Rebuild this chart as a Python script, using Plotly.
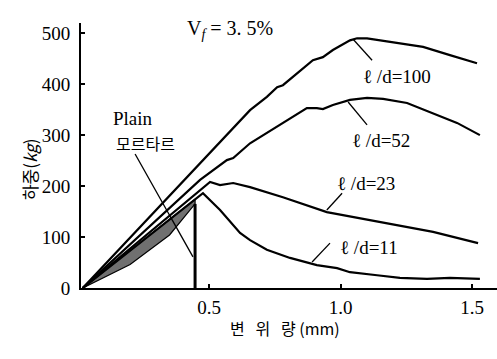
import plotly.graph_objects as go

# ---- data (displacement mm, load kg) ----
d100_x = [0.02, 0.656, 0.72, 0.759, 0.781, 0.819, 0.895, 0.933, 0.971, 1.036, 1.063, 1.101, 1.2, 1.314, 1.416, 1.519]
d100_y = [0, 349, 375, 394, 398, 414, 447, 453, 467, 486, 490, 490, 482, 473, 457, 441]

d52_x = [0.02, 0.466, 0.568, 0.592, 0.656, 0.72, 0.781, 0.872, 0.91, 0.933, 0.971, 1.036, 1.101, 1.162, 1.253, 1.352, 1.443, 1.53]
d52_y = [0, 212, 251, 255, 284, 304, 324, 353, 353, 351, 359, 369, 373, 371, 363, 343, 324, 300]

d23_x = [0.02, 0.49, 0.504, 0.542, 0.592, 0.656, 0.781, 0.948, 1.162, 1.352, 1.523]
d23_y = [0, 203, 208, 202, 206, 198, 178, 149, 129, 110, 88]

d11_x = [0.02, 0.477, 0.542, 0.618, 0.656, 0.72, 0.808, 0.91, 0.987, 1.036, 1.139, 1.226, 1.329, 1.416, 1.53]
d11_y = [0, 186, 153, 108, 94, 75, 59, 45, 39, 31, 25, 20, 18, 20, 18]

plain_hi_x = [0.02, 0.447]
plain_hi_y = [0, 174]
plain_lo_x = [0.02, 0.2, 0.35, 0.447]
plain_lo_y = [0, 46, 104, 165]
plain_drop_x = [0.447, 0.447]
plain_drop_y = [165, 0]

x_tickvals = [0.5, 1.0, 1.5]
x_ticktext = ["0.5", "1.0", "1.5"]
y_tickvals = [0, 100, 200, 300, 400, 500]

serif = "Liberation Serif"
kr = "Noto Sans CJK KR"

fig = go.Figure()

# shaded plain mortar band
fig.add_trace(go.Scatter(
    x=plain_hi_x + plain_lo_x[::-1], y=plain_hi_y + plain_lo_y[::-1],
    fill="toself", fillcolor="#707070", mode="lines",
    line=dict(color="black", width=1.2), hoverinfo="skip", showlegend=False))
fig.add_trace(go.Scatter(x=plain_drop_x, y=plain_drop_y, mode="lines",
                         line=dict(color="black", width=3), showlegend=False))

for xs, ys in [(d100_x, d100_y), (d52_x, d52_y), (d23_x, d23_y), (d11_x, d11_y)]:
    fig.add_trace(go.Scatter(x=xs, y=ys, mode="lines",
                             line=dict(color="black", width=2.2),
                             showlegend=False))

annotations = []
# curve labels
labels = [("ℓ /d=100", 1.215, 416), ("ℓ /d=52", 1.154, 290),
          ("ℓ /d=23", 1.097, 206), ("ℓ /d=11", 1.108, 80)]
for t, x, y in labels:
    annotations.append(dict(x=x, y=y, text=t, showarrow=False,
                            font=dict(family=serif, size=19, color="black")))
annotations.append(dict(x=0.211, y=333, text="Plain", showarrow=False,
                        font=dict(family=serif, size=19, color="black")))
annotations.append(dict(x=0.26, y=284, text="모르타르", showarrow=False,
                        font=dict(family=kr, size=16, color="black")))

# leader lines
leaders = [((1.048, 488), (1.120, 447)), ((1.029, 365), (1.101, 320)),
           ((1.006, 186), (0.948, 153)), ((0.960, 88), (0.892, 51)),
           ((0.219, 263), (0.439, 61))]
shapes = []
for (x0, y0), (x1, y1) in leaders:
    shapes.append(dict(type="line", xref="x", yref="y", x0=x0, y0=y0, x1=x1, y1=y1,
                       line=dict(color="black", width=1.3)))

# titles
annotations.append(dict(xref="paper", yref="paper", x=0.358, y=1.03,
                        text="V<sub><i>f</i></sub> = 3. 5%", showarrow=False,
                        font=dict(family=serif, size=20, color="black")))
annotations.append(dict(xref="paper", yref="paper", x=-0.159, y=0.45,
                        text="하중(<i>kg</i>)", textangle=-90, showarrow=False,
                        font=dict(family=kr, size=17, color="black")))
annotations.append(dict(xref="paper", yref="paper", x=0.49, y=-0.204,
                        text="변   위   량 (mm)", showarrow=False,
                        font=dict(family=kr, size=16, color="black")))

fig.update_layout(
    width=497, height=359,
    margin=dict(l=81, r=0, t=23, b=71),
    paper_bgcolor="white", plot_bgcolor="white",
    showlegend=False,
    annotations=annotations,
    shapes=shapes,
    xaxis=dict(range=[0.0133, 1.595], tickvals=x_tickvals, ticktext=x_ticktext,
               ticks="inside", ticklen=4, tickwidth=1.5, tickcolor="black",
               showline=True, linecolor="black", linewidth=2,
               showgrid=False, zeroline=False, ticklabelstandoff=1,
               tickfont=dict(family=serif, size=19, color="black")),
    yaxis=dict(range=[0, 520], tickvals=y_tickvals,
               ticks="inside", ticklen=4, tickwidth=1.5, tickcolor="black",
               showline=True, linecolor="black", linewidth=2,
               showgrid=False, zeroline=False, ticklabelstandoff=5,
               tickfont=dict(family=serif, size=19, color="black")),
)

fig.write_html("out.html")
